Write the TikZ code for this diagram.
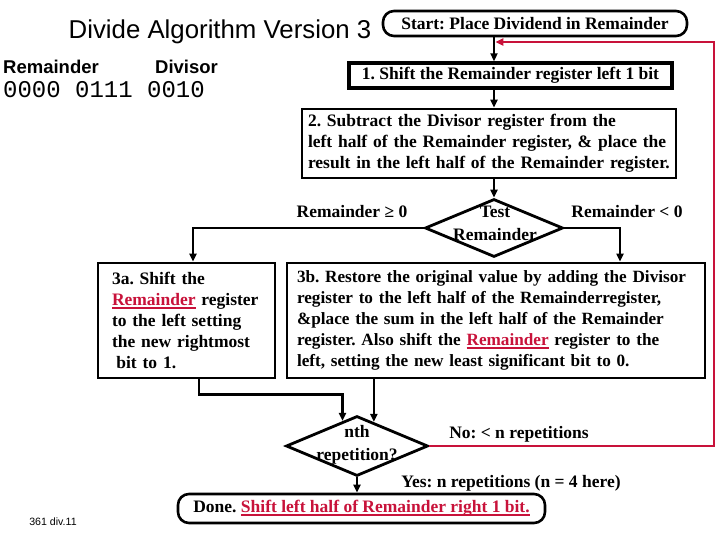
\documentclass[tikz,border=0pt]{standalone}
\usepackage{fontspec}
\setmainfont{Liberation Serif}
\newfontfamily\titlesans{Liberation Sans}
\newfontfamily\digitmono{Liberation Mono}
\usetikzlibrary{positioning,arrows.meta,shapes.geometric}
\definecolor{crimson}{RGB}{200,18,58}
\newsavebox{\ulbox}
\newcommand{\redul}[1]{\textcolor{crimson}{\sbox{\ulbox}{#1}\rlap{\rule[-3.2pt]{\wd\ulbox}{1.5pt}}\usebox{\ulbox}}}
\newcommand{\bodyfont}{\fontsize{17.5}{21}\selectfont\bfseries\frenchspacing}
\tikzset{
  flowarrow/.style={-{Triangle[length=8pt,width=7pt]}, line width=2.6pt},
  loopline/.style={-{Triangle[length=8pt,width=7pt]}, line width=2.6pt, draw=crimson},
  stepbox/.style={draw, line width=2.8pt, inner sep=0pt, font=\bodyfont},
  roundbox/.style={draw, line width=2.6pt, rounded corners=11pt, inner sep=0pt, font=\bodyfont},
  decision/.style={draw, diamond, line width=2.8pt, inner sep=0pt},
  relabel/.style={font=\bodyfont, inner sep=0pt, align=center}
}

\begin{document}
\begin{tikzpicture}[x=1pt, y=-1pt]
  \useasboundingbox (0,0) rectangle (720,540);
  % header and register values
  \node[font=\titlesans\fontsize{25.8}{30}\selectfont, inner sep=0pt] (title) at (220,32) {Divide Algorithm Version 3};
  \node[anchor=west, font=\titlesans\bfseries\fontsize{18.5}{22}\selectfont, inner sep=0pt] (remhead) at (3,67) {Remainder};
  \node[anchor=west, font=\titlesans\bfseries\fontsize{18.5}{22}\selectfont, inner sep=0pt] (divhead) at (155,67) {Divisor};
  \node[anchor=west, font=\digitmono\fontsize{24}{28}\selectfont, inner sep=0pt] (digits) at (3,90) {0000 0111 0010};

  % main flow
  \node[roundbox, minimum width=304pt, minimum height=25pt] (start) at (535,23.5) {Start: Place Dividend in Remainder};
  \node[stepbox, line width=3.4pt, minimum width=323pt, minimum height=25pt] (shiftrem) at (510.5,75.5) {1. Shift the Remainder register left 1 bit};
  \node[stepbox, minimum width=374pt, minimum height=69pt, text width=362pt, align=left] (subtract) at (489,143.5)
    {2. Subtract the Divisor register from the\\ left half of the Remainder register, \& place the\\ result in the left half of the Remainder register.};
  \node[decision, minimum width=138pt, minimum height=58pt] (test) at (494,228) {};
  \node[relabel] (testtxt) at (495,223.5) {Test\\[2pt]Remainder};
  \node[relabel] (gelabel) at (352,212) {Remainder ≥ 0};
  \node[relabel] (ltlabel) at (627,212) {Remainder < 0};

  \node[stepbox, minimum width=177pt, minimum height=115pt, text width=149pt, align=left] (leftshift) at (186.5,320.5)
    {3a. Shift the\\ \redul{Remainder} register\\ to the left setting\\ the new rightmost\\ \hspace*{0.25em}bit to 1.};
  \node[stepbox, minimum width=418pt, minimum height=115pt, text width=398pt, align=left,
        font=\fontsize{17.2}{21.2}\selectfont\bfseries\frenchspacing] (restore) at (496,320.5)
    {3b. Restore the original value by adding the Divisor\\ register to the left half of the Remainderregister,\\ \&place the sum in the left half of the Remainder\\ register. Also shift the \redul{Remainder} register to the\\ left, setting the new least significant bit to 0.};

  \node[decision, minimum width=142pt, minimum height=60pt] (nth) at (357,446) {};
  \node[relabel] (nthtxt) at (357,444.5) {nth\\[2pt]repetition?};
  \node[relabel] (nolabel) at (519,434) {No: < n repetitions};
  \node[relabel] (yeslabel) at (511,483) {Yes: n repetitions (n = 4 here)};
  \node[roundbox, minimum width=367pt, minimum height=29pt] (done) at (361.5,508.5) {Done. \redul{Shift left half of Remainder right 1 bit.}};
  \node[font=\titlesans\fontsize{10.6}{12}\selectfont, inner sep=0pt] (slideno) at (53,522) {361 div.11};

  % connectors
  \draw[flowarrow] (start.south -| test.north) -- (shiftrem.north -| test.north);
  \draw[flowarrow] (shiftrem.south -| test.north) -- (subtract.north -| test.north);
  \draw[flowarrow] (subtract.south -| test.north) -- (test.north);
  \draw[flowarrow] (test.west) -| ([xshift=6.5pt]leftshift.north);
  \draw[flowarrow] (test.east) -| ([xshift=124pt]restore.north);
  \draw[flowarrow] ([xshift=12.5pt]leftshift.south) -- ++(0,15) -| (nth.120);
  \draw[flowarrow] (restore.south -| nth.55) -- (nth.55);
  \draw[flowarrow] (nth.south) -- (nth.south |- done.north);
  \coordinate (loopcorner) at (714,42);
  \draw[loopline, shorten >=1.3pt] (nth.east) -| (loopcorner) -- (loopcorner -| test.north);
\end{tikzpicture}
\end{document}
